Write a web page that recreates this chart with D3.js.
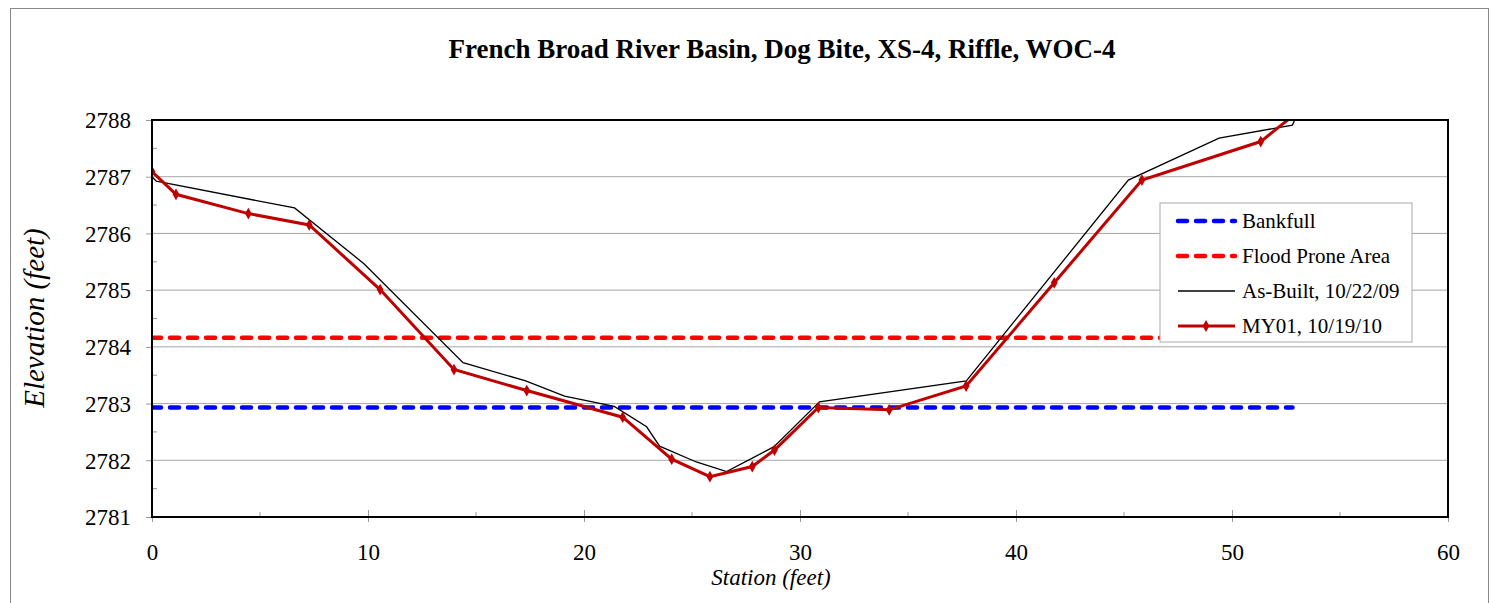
<!DOCTYPE html>
<html>
<head>
    <title>XS-4 Riffle</title>
    <script src="https://d3js.org/d3.v7.min.js"></script>
    <style>
        body { margin: 0; background: #fff; }
        text { font-family: "Times New Roman", "Liberation Serif", serif; fill: #000; }
    </style>
</head>
<body>
<svg width="1496" height="603"></svg>
<script>
    // station (ft) / elevation (ft)
    var asBuiltStation = [0, 0.2, 6.6, 9.8, 14.4, 17.3, 19.1, 21.4, 22.9, 23.5, 25.2, 26.6, 28.8, 30.9, 37.7, 45.2, 49.4, 52.8, 52.9];
    var asBuiltElev = [2787.0, 2786.92, 2786.45, 2785.47, 2783.72, 2783.40, 2783.13, 2782.95, 2782.59, 2782.25, 2781.97, 2781.80, 2782.24, 2783.03, 2783.40, 2786.94, 2787.68, 2787.91, 2788.0];

    var my01Station = [0, 1.11, 4.46, 7.28, 10.56, 13.98, 17.35, 21.79, 24.06, 25.83, 27.79, 28.82, 30.85, 34.13, 37.69, 41.77, 45.83, 51.33, 53.2];
    var my01Elev = [2787.09, 2786.69, 2786.35, 2786.15, 2785.01, 2783.60, 2783.23, 2782.76, 2782.02, 2781.71, 2781.89, 2782.18, 2782.93, 2782.89, 2783.31, 2785.13, 2786.94, 2787.62, 2788.19];

    var bankfullStation = [0, 52.8];
    var bankfullElev = [2782.93, 2782.93];
    var floodStation = [0, 52.8];
    var floodElev = [2784.16, 2784.16];

    var xTicks = [0, 10, 20, 30, 40, 50, 60];
    var yTicks = [2781, 2782, 2783, 2784, 2785, 2786, 2787, 2788];

    function draw() {
        var svg = d3.select("svg");
        var pLeft = 152, pRight = 1448, pTop = 120, pBottom = 517;
        var serif = "'Times New Roman', 'Liberation Serif', serif";

        var x = d3.scaleLinear().domain([0, 60]).range([pLeft, pRight]);
        var y = d3.scaleLinear().domain([2781, 2788]).range([pBottom, pTop]);

        // outer chart frame
        svg.append("rect")
            .attr("x", 10.5).attr("y", 8.5)
            .attr("width", 1478).attr("height", 610)
            .attr("fill", "none").attr("stroke", "#888").attr("stroke-width", 1);

        // title
        svg.append("text")
            .attr("x", 782).attr("y", 58)
            .attr("text-anchor", "middle")
            .attr("font-size", 27).attr("font-weight", "bold")
            .text("French Broad River Basin, Dog Bite, XS-4, Riffle, WOC-4");

        // gridlines
        svg.append("g").selectAll("line")
            .data(yTicks.slice(1, -1))
            .enter().append("line")
            .attr("x1", pLeft).attr("x2", pRight)
            .attr("y1", function (d) { return y(d); })
            .attr("y2", function (d) { return y(d); })
            .attr("stroke", "#a6a6a6").attr("stroke-width", 1);

        // y axis
        var yAxis = svg.append("g")
            .attr("transform", "translate(" + pLeft + ",0)")
            .call(d3.axisLeft(y).tickValues(yTicks).tickFormat(d3.format("d")).tickSize(6));
        yAxis.select(".domain").remove();
        yAxis.selectAll(".tick line").attr("stroke", "#999");
        yAxis.selectAll("text")
            .attr("x", -21).attr("dy", "0.34em")
            .attr("font-size", 23).attr("font-family", serif);

        // minor y ticks
        svg.append("g").selectAll("line")
            .data(d3.range(2781.5, 2788, 1))
            .enter().append("line")
            .attr("x1", pLeft).attr("x2", pLeft + 5)
            .attr("y1", function (d) { return y(d); })
            .attr("y2", function (d) { return y(d); })
            .attr("stroke", "#999");

        // x axis
        var xAxis = svg.append("g")
            .attr("transform", "translate(0," + pBottom + ")")
            .call(d3.axisBottom(x).tickValues(xTicks).tickSize(5));
        xAxis.select(".domain").remove();
        xAxis.selectAll(".tick line").attr("stroke", "#999").attr("y1", -7);
        xAxis.selectAll("text")
            .attr("y", 43).attr("dy", null)
            .attr("font-size", 23).attr("font-family", serif);

        // minor x ticks
        svg.append("g").selectAll("line")
            .data(d3.range(5, 60, 10))
            .enter().append("line")
            .attr("x1", function (d) { return x(d); })
            .attr("x2", function (d) { return x(d); })
            .attr("y1", pBottom - 5).attr("y2", pBottom)
            .attr("stroke", "#999");

        // clip to plot area
        svg.append("clipPath").attr("id", "plot")
            .append("rect").attr("x", pLeft).attr("y", pTop - 1)
            .attr("width", pRight - pLeft).attr("height", pBottom - pTop + 2);

        var line = d3.line()
            .x(function (d) { return x(d[0]); })
            .y(function (d) { return y(d[1]); });

        var plot = svg.append("g").attr("clip-path", "url(#plot)");

        var bankfull = d3.zip(bankfullStation, bankfullElev);
        var flood = d3.zip(floodStation, floodElev);
        var asBuilt = d3.zip(asBuiltStation, asBuiltElev);
        var my01 = d3.zip(my01Station, my01Elev);

        plot.append("path").datum(flood)
            .attr("d", line).attr("fill", "none")
            .attr("stroke", "#ff0000").attr("stroke-width", 4.5)
            .attr("stroke-dasharray", "9,9").attr("stroke-linecap", "round");

        plot.append("path").datum(bankfull)
            .attr("d", line).attr("fill", "none")
            .attr("stroke", "#0000ff").attr("stroke-width", 4.5)
            .attr("stroke-dasharray", "9,9").attr("stroke-linecap", "round");

        plot.append("path").datum(asBuilt)
            .attr("d", line).attr("fill", "none")
            .attr("stroke", "#000").attr("stroke-width", 1.3);

        plot.append("path").datum(my01)
            .attr("d", line).attr("fill", "none")
            .attr("stroke", "#c00000").attr("stroke-width", 3);

        plot.append("g").selectAll("path")
            .data(my01)
            .enter().append("path")
            .attr("d", d3.symbol().type(d3.symbolDiamond).size(40))
            .attr("transform", function (d) { return "translate(" + x(d[0]) + "," + y(d[1]) + ")"; })
            .attr("fill", "#c00000");

        // plot frame
        svg.append("rect")
            .attr("x", pLeft).attr("y", pTop)
            .attr("width", pRight - pLeft).attr("height", pBottom - pTop)
            .attr("fill", "none").attr("stroke", "#000").attr("stroke-width", 2);

        // axis titles
        svg.append("text")
            .attr("x", 771).attr("y", 585)
            .attr("text-anchor", "middle")
            .attr("font-size", 23).attr("font-style", "italic")
            .text("Station (feet)");

        svg.append("text")
            .attr("transform", "translate(44,318) rotate(-90)")
            .attr("text-anchor", "middle")
            .attr("font-size", 29).attr("font-style", "italic")
            .text("Elevation (feet)");

        // legend
        var legendItems = [
            {name: "Bankfull", color: "#0000ff", width: 4.5, dash: "9,9", marker: false},
            {name: "Flood Prone Area", color: "#ff0000", width: 4.5, dash: "9,9", marker: false},
            {name: "As-Built, 10/22/09", color: "#000", width: 1.3, dash: null, marker: false},
            {name: "MY01, 10/19/10", color: "#c00000", width: 3, dash: null, marker: true}
        ];

        var legend = svg.append("g").attr("transform", "translate(1160,203)");
        legend.append("rect")
            .attr("width", 252).attr("height", 139)
            .attr("fill", "#fff").attr("stroke", "#aaa");

        var item = legend.selectAll("g.item")
            .data(legendItems)
            .enter().append("g")
            .attr("class", "item")
            .attr("transform", function (d, i) { return "translate(0," + (18 + i * 35) + ")"; });

        item.append("line")
            .attr("x1", 18).attr("x2", 75)
            .attr("stroke", function (d) { return d.color; })
            .attr("stroke-width", function (d) { return d.width; })
            .attr("stroke-dasharray", function (d) { return d.dash; })
            .attr("stroke-linecap", function (d) { return d.dash ? "round" : "butt"; });

        item.filter(function (d) { return d.marker; })
            .append("path")
            .attr("d", d3.symbol().type(d3.symbolDiamond).size(40))
            .attr("transform", "translate(46,0)")
            .attr("fill", "#c00000");

        item.append("text")
            .attr("x", 82).attr("y", 7)
            .attr("font-size", 21)
            .text(function (d) { return d.name; });
    }
    draw();
</script>
</body>
</html>
